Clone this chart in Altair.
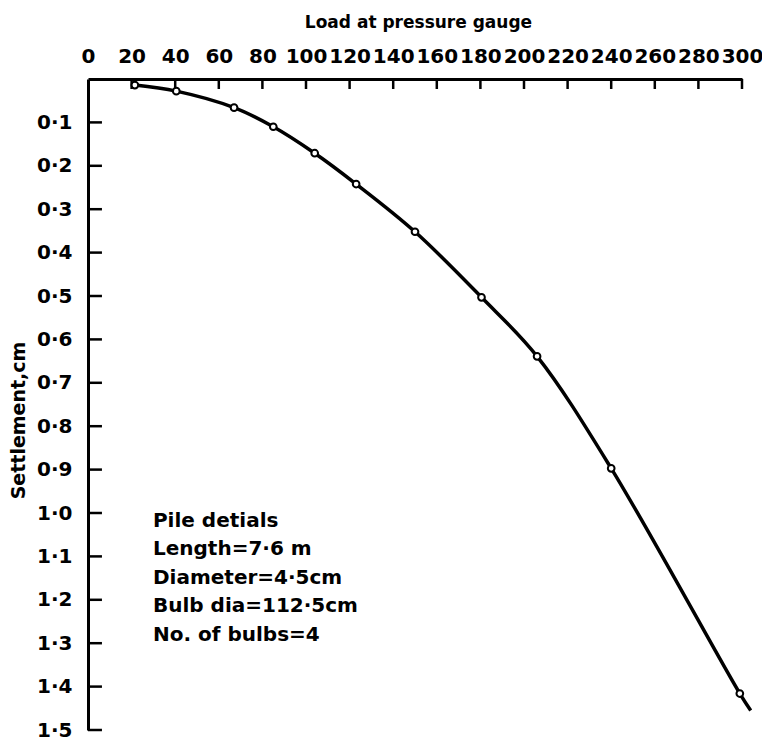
import altair as alt
import pandas as pd

# Load at pressure gauge (x) vs settlement in cm (y)
loads = [21.5, 40.5, 67, 85, 104, 123, 150, 180.5, 206, 240, 299]
settlements = [0.014, 0.028, 0.066, 0.110, 0.171, 0.242, 0.352, 0.503, 0.639, 0.897, 1.416]

# the drawn curve runs a little past the last measured point
curve_loads = loads + [304.0]
curve_settlements = settlements + [1.455]

x_ticks = [0, 20, 40, 60, 80, 100, 120, 140, 160, 180, 200, 220, 240, 260, 280, 300]
y_ticks = [0.1, 0.2, 0.3, 0.4, 0.5, 0.6, 0.7, 0.8, 0.9, 1.0, 1.1, 1.2, 1.3, 1.4, 1.5]

note_lines = [
    "Pile detials",
    "Length=7·6 m",
    "Diameter=4·5cm",
    "Bulb dia=112·5cm",
    "No. of bulbs=4",
]
note_load = 29.8
note_settlement = 0.995

FONT = "DejaVu Sans"

xscale = alt.Scale(domain=[0, 300], nice=False, zero=True)
yscale = alt.Scale(domain=[0, 1.5], nice=False, reverse=True)

points_df = pd.DataFrame({"load": loads, "settlement": settlements})
curve_df = pd.DataFrame({"load": curve_loads, "settlement": curve_settlements})
xt_df = pd.DataFrame({"load": [v for v in x_ticks if v > 0]})
yt_df = pd.DataFrame({"settlement": y_ticks})
note_df = pd.DataFrame({"load": [note_load], "settlement": [note_settlement]})

x_axis = alt.Axis(
    orient="top", values=x_ticks, tickSize=0, labelPadding=13,
    labelFont=FONT, labelFontWeight="bold", labelFontSize=20, labelColor="black",
    labelFlush=False, labelOverlap=False,
    domainColor="black", domainWidth=3, grid=False,
    title="Load at pressure gauge", titleFont=FONT, titleFontWeight="bold",
    titleFontSize=17, titleColor="black", titleX=330, titleY=-52,
    titleAlign="center", titleBaseline="alphabetic",
)
y_axis = alt.Axis(
    orient="left", values=y_ticks, tickSize=0, labelPadding=16,
    labelExpr="replace(format(datum.value, '.1f'), '.', '·')",
    labelFont=FONT, labelFontWeight="bold", labelFontSize=20, labelColor="black",
    labelFlush=False, labelOverlap=False,
    domainColor="black", domainWidth=3, grid=False,
    title="Settlement,cm", titleFont=FONT, titleFontWeight="bold",
    titleFontSize=19, titleColor="black", titleX=-70, titleY=341,
    titleAngle=270, titleAlign="center", titleBaseline="middle",
)


def X():
    return alt.X("load:Q", scale=xscale, axis=x_axis)


def Y():
    return alt.Y("settlement:Q", scale=yscale, axis=y_axis)


curve = alt.Chart(curve_df).mark_line(
    interpolate="catmull-rom", color="black", strokeWidth=3.5
).encode(x=X(), y=Y(), order=alt.Order("load:Q"))

points = alt.Chart(points_df).mark_point(
    shape="circle", filled=True, fill="white", stroke="black",
    strokeWidth=2, size=45, opacity=1
).encode(x=X(), y=Y())

# inward tick marks, drawn at the tick values through the scales
x_tick_marks = alt.Chart(xt_df).mark_rule(color="black", strokeWidth=2.5).encode(
    x=X(),
    y=alt.datum(0, scale=yscale),
    y2=alt.datum(0.023),
)

y_tick_marks = alt.Chart(yt_df).mark_rule(color="black", strokeWidth=2.5).encode(
    y=Y(),
    x=alt.datum(0, scale=xscale),
    x2=alt.datum(6.4),
)

note = alt.Chart(note_df).mark_text(
    text=note_lines, align="left", baseline="top", lineHeight=28.5,
    font=FONT, fontWeight="bold", fontSize=20, color="black"
).encode(x=X(), y=Y())

chart = alt.layer(x_tick_marks, y_tick_marks, curve, points, note).properties(
    width=654,
    height=651,
    padding={"left": 80, "top": 71, "right": 20, "bottom": 16},
    autosize=alt.AutoSizeParams(type="none"),
    background="white",
).configure_view(stroke=None)

chart.save("out.html", embed_options={"renderer": "svg", "actions": False})
